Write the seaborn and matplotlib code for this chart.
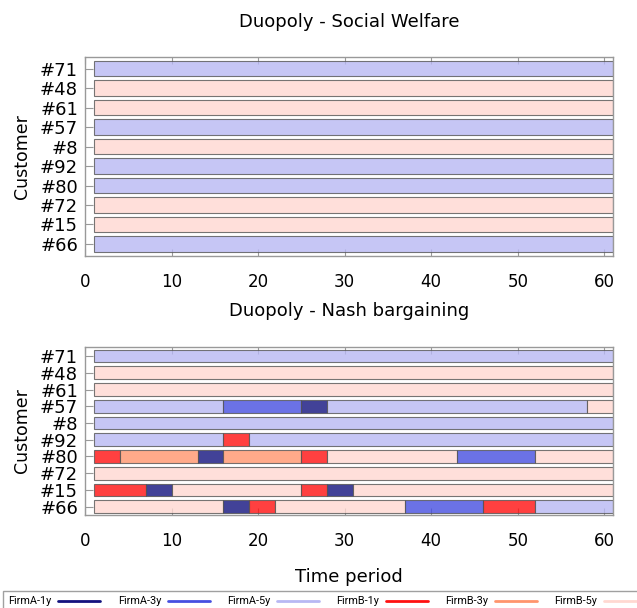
import matplotlib
matplotlib.use("Agg")
import matplotlib.pyplot as plt
from matplotlib.lines import Line2D
import seaborn as sns

# ---------------- data ----------------
customers = ["#71", "#48", "#61", "#57", "#8", "#92", "#80", "#72", "#15", "#66"]
contracts = ["FirmA-1y", "FirmA-3y", "FirmA-5y", "FirmB-1y", "FirmB-3y", "FirmB-5y"]
contract_colors = ["#13137e", "#464fe0", "#b8b8f3", "#ff1010", "#ff956d", "#ffd8d1"]
horizon_start = 1
horizon_end = 61

# Social welfare: one contract type for the whole horizon
sw_contract = ["FirmA-5y", "FirmB-5y", "FirmB-5y", "FirmA-5y", "FirmB-5y",
               "FirmA-5y", "FirmA-5y", "FirmB-5y", "FirmB-5y", "FirmA-5y"]

# Nash bargaining: (start period, contract) per customer
nb_71 = [(1, "FirmA-5y")]
nb_48 = [(1, "FirmB-5y")]
nb_61 = [(1, "FirmB-5y")]
nb_57 = [(1, "FirmA-5y"), (16, "FirmA-3y"), (25, "FirmA-1y"), (28, "FirmA-5y"), (58, "FirmB-5y")]
nb_8 = [(1, "FirmA-5y")]
nb_92 = [(1, "FirmA-5y"), (16, "FirmB-1y"), (19, "FirmA-5y")]
nb_80 = [(1, "FirmB-1y"), (4, "FirmB-3y"), (13, "FirmA-1y"), (16, "FirmB-3y"), (25, "FirmB-1y"),
         (28, "FirmB-5y"), (43, "FirmA-3y"), (52, "FirmB-5y")]
nb_72 = [(1, "FirmB-5y")]
nb_15 = [(1, "FirmB-1y"), (7, "FirmA-1y"), (10, "FirmB-5y"), (25, "FirmB-1y"), (28, "FirmA-1y"),
         (31, "FirmB-5y")]
nb_66 = [(1, "FirmB-5y"), (16, "FirmA-1y"), (19, "FirmB-1y"), (22, "FirmB-5y"), (37, "FirmA-3y"),
         (46, "FirmB-1y"), (52, "FirmA-5y")]
nb_segments = [nb_71, nb_48, nb_61, nb_57, nb_8, nb_92, nb_80, nb_72, nb_15, nb_66]

x_ticks = [0, 10, 20, 30, 40, 50, 60]

# ---------------- style ----------------
sns.set_theme(style="white")
plt.rcParams["font.family"] = ["DejaVu Sans"]
plt.rcParams["text.color"] = "black"
plt.rcParams["axes.labelcolor"] = "black"
plt.rcParams["xtick.labelcolor"] = "black"
plt.rcParams["ytick.labelcolor"] = "black"
color_of = dict(zip(contracts, contract_colors))

W, H = 637, 608
fig = plt.figure(figsize=(W / 100, H / 100), dpi=100)

def fx(px):
    return px / W

def fy(py):
    return 1 - py / H

ax_top = fig.add_axes([fx(85), fy(256), fx(613) - fx(85), fy(57) - fy(256)])
ax_bot = fig.add_axes([fx(85), fy(515), fx(613) - fx(85), fy(347) - fy(515)])

def draw_panel(ax, segs_per_customer, bar_h, ylim):
    for i, segs in enumerate(segs_per_customer):
        starts = [s for s, _ in segs]
        ends = starts[1:] + [horizon_end]
        for (s, c), e in zip(segs, ends):
            ax.barh(i, e - s, left=s, height=bar_h, color=color_of[c], alpha=0.8,
                    edgecolor="#555555", linewidth=0.8, align="center")
    ax.set_xlim(0, horizon_end)
    ax.set_ylim(*ylim)
    ax.set_yticks(range(len(customers)))
    ax.set_yticklabels(customers, fontsize=13)
    ax.set_xticks(x_ticks)
    ax.set_xticklabels([str(t) for t in x_ticks], fontsize=12)
    ax.tick_params(axis="x", direction="in", top=True, bottom=True, length=5,
                   color="#999999", width=0.8, pad=12.5)
    ax.tick_params(axis="y", direction="in", left=True, right=False, length=6,
                   color="#999999", width=0.8, pad=5)
    for sp in ax.spines.values():
        sp.set_color("#999999")
        sp.set_linewidth(1.0)
    ax.set_ylabel("Customer", fontsize=12.5)
    ax.yaxis.set_label_coords(-(85 - 31) / (613 - 85), 0.5)

draw_panel(ax_top, [[(horizon_start, c)] for c in sw_contract], 0.8, (9.62, -0.6))
draw_panel(ax_bot, nb_segments, 0.76, (9.5, -0.54))

fig.text(fx(349), fy(22), "Duopoly - Social Welfare", ha="center", va="center", fontsize=13)
fig.text(fx(349), fy(311), "Duopoly - Nash bargaining", ha="center", va="center", fontsize=13)
fig.text(fx(349), fy(577), "Time period", ha="center", va="center", fontsize=13)

handles = [Line2D([0], [0], color=c, lw=2.0) for c in contract_colors]
leg = fig.legend(handles, contracts, loc="upper left", bbox_to_anchor=(fx(3), fy(591)),
                 ncol=6, markerfirst=False, frameon=True, fancybox=False,
                 prop={"family": "Roboto", "size": 7.8},
                 handlelength=3.9, handletextpad=0.6, columnspacing=1.6,
                 borderpad=0.5, borderaxespad=0)
leg.get_frame().set_edgecolor("#888888")
leg.get_frame().set_linewidth(1.0)
for t in leg.get_texts():
    t.set_color("black")

fig.savefig("out.png", dpi=100)
